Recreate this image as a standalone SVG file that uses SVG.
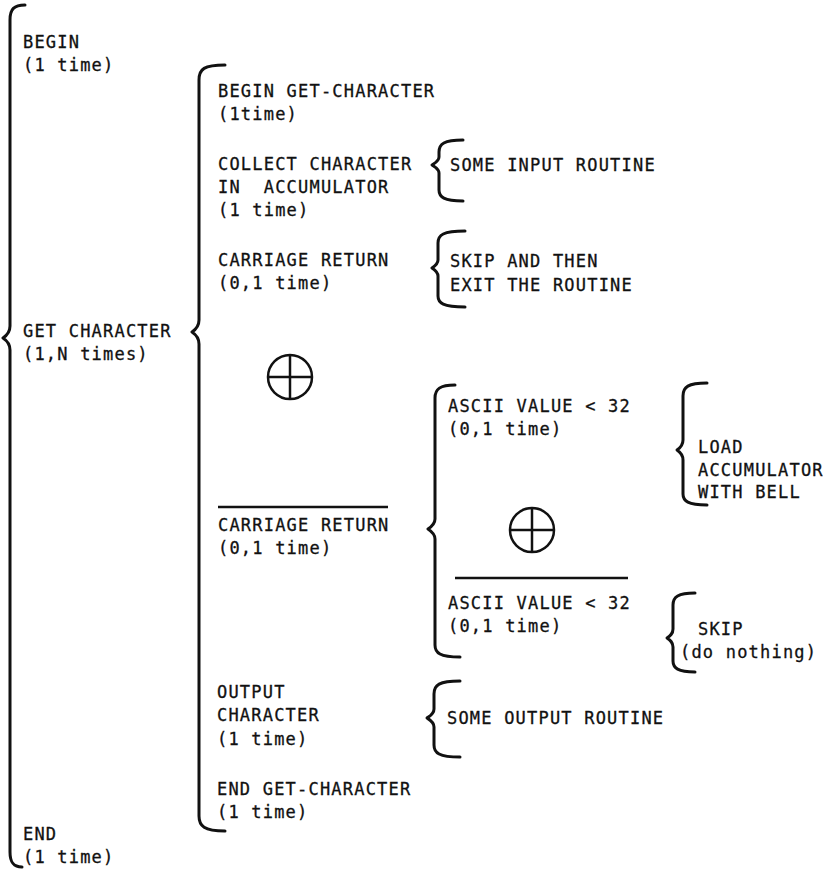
<svg xmlns="http://www.w3.org/2000/svg" width="828" height="870" viewBox="0 0 828 870">
<style>
text{font-family:"DejaVu Sans Mono","Liberation Mono",monospace;font-size:17px;letter-spacing:1.2px;fill:#111;stroke:#111;stroke-width:0.3}
.br{fill:none;stroke:#111;stroke-width:3;stroke-linecap:round;stroke-linejoin:round}
.ov{stroke:#111;stroke-width:2.5;fill:none}
.sel{fill:none;stroke:#111;stroke-width:2.5}
</style>
<rect width="828" height="870" fill="#fff"/>
<g id="connectors">
<path class="br" d="M25,5 C14,5 10,9 10,20 L10,326 C10,333 6,336 3,338 C6,340 10,343 10,350 L10,852 C10,862 13,867 22,867"/>
<path class="br" d="M225,65 C204,65 199,69 199,80 L199,320 C199,327 195,330 192,332 C195,334 199,337 199,344 L199,816 C199,826 204,831 225,831"/>
<path class="br" d="M463,140 C444,140 439,144 439,152 L439,157 C439,161 435,163 432,165 C435,167 439,169 439,173 L439,190 C439,197 444,201 463,201"/>
<path class="br" d="M465,231 C443,231 438,235 438,243 L438,260 C438,264 435,266 432,268 C435,270 438,272 438,276 L438,296 C438,303 443,307 465,307"/>
<path class="br" d="M455,385 C440,385 435,389 435,398 L435,519 C435,524 431,527 428,529 C431,531 435,534 435,539 L435,645 C435,653 440,657 460,657"/>
<path class="br" d="M707,383 C688,383 683,387 683,396 L683,440 C683,445 680,448 677,450 C680,452 683,455 683,460 L683,494 C683,501 688,505 707,505"/>
<path class="br" d="M695,593 C678,593 673,597 673,605 L673,629 C673,634 670,636 667,638 C670,640 673,642 673,647 L673,661 C673,668 678,672 695,672"/>
<path class="br" d="M460,681 C439,681 434,685 434,694 L434,709 C434,714 430,716 427,718 C430,720 434,722 434,727 L434,745 C434,753 439,757 460,757"/>
</g>
<g id="begin"><text x="23" y="48">BEGIN</text><text x="23" y="71">(1 time)</text></g>
<g id="get-character"><text x="23" y="337">GET CHARACTER</text><text x="23" y="360">(1,N times)</text></g>
<g id="end"><text x="23" y="840">END</text><text x="23" y="863">(1 time)</text></g>
<g id="begin-get-character"><text x="218" y="97">BEGIN GET-CHARACTER</text><text x="218" y="120">(1time)</text></g>
<g id="collect-character"><text x="218" y="170">COLLECT CHARACTER</text><text x="218" y="193" xml:space="preserve">IN  ACCUMULATOR</text><text x="218" y="216">(1 time)</text></g>
<g id="input-routine"><text x="450" y="171">SOME INPUT ROUTINE</text></g>
<g id="carriage-return"><text x="218" y="266">CARRIAGE RETURN</text><text x="218" y="289">(0,1 time)</text></g>
<g id="skip-exit"><text x="450" y="267">SKIP AND THEN</text><text x="450" y="291">EXIT THE ROUTINE</text></g>
<g id="select-1"><circle class="sel" cx="290" cy="377" r="22"/><line class="sel" x1="268" y1="377" x2="312" y2="377"/><line class="sel" x1="290" y1="355" x2="290" y2="399"/></g>
<g id="not-carriage-return"><line class="ov" x1="218" y1="507" x2="388" y2="507"/><text x="218" y="531">CARRIAGE RETURN</text><text x="218" y="554">(0,1 time)</text></g>
<g id="ascii-lt-32"><text x="448" y="412">ASCII VALUE &lt; 32</text><text x="448" y="435">(0,1 time)</text></g>
<g id="load-bell"><text x="698" y="453">LOAD</text><text x="698" y="476">ACCUMULATOR</text><text x="698" y="498">WITH BELL</text></g>
<g id="select-2"><circle class="sel" cx="532" cy="530" r="22"/><line class="sel" x1="510" y1="530" x2="554" y2="530"/><line class="sel" x1="532" y1="508" x2="532" y2="552"/></g>
<g id="not-ascii-lt-32"><line class="ov" x1="455" y1="578" x2="628" y2="578"/><text x="448" y="609">ASCII VALUE &lt; 32</text><text x="448" y="632">(0,1 time)</text></g>
<g id="skip-nothing"><text x="698" y="635">SKIP</text><text x="680" y="658">(do nothing)</text></g>
<g id="output-character"><text x="217" y="698">OUTPUT</text><text x="217" y="721">CHARACTER</text><text x="217" y="745">(1 time)</text></g>
<g id="output-routine"><text x="447" y="724">SOME OUTPUT ROUTINE</text></g>
<g id="end-get-character"><text x="217" y="795">END GET-CHARACTER</text><text x="217" y="818">(1 time)</text></g>
</svg>
